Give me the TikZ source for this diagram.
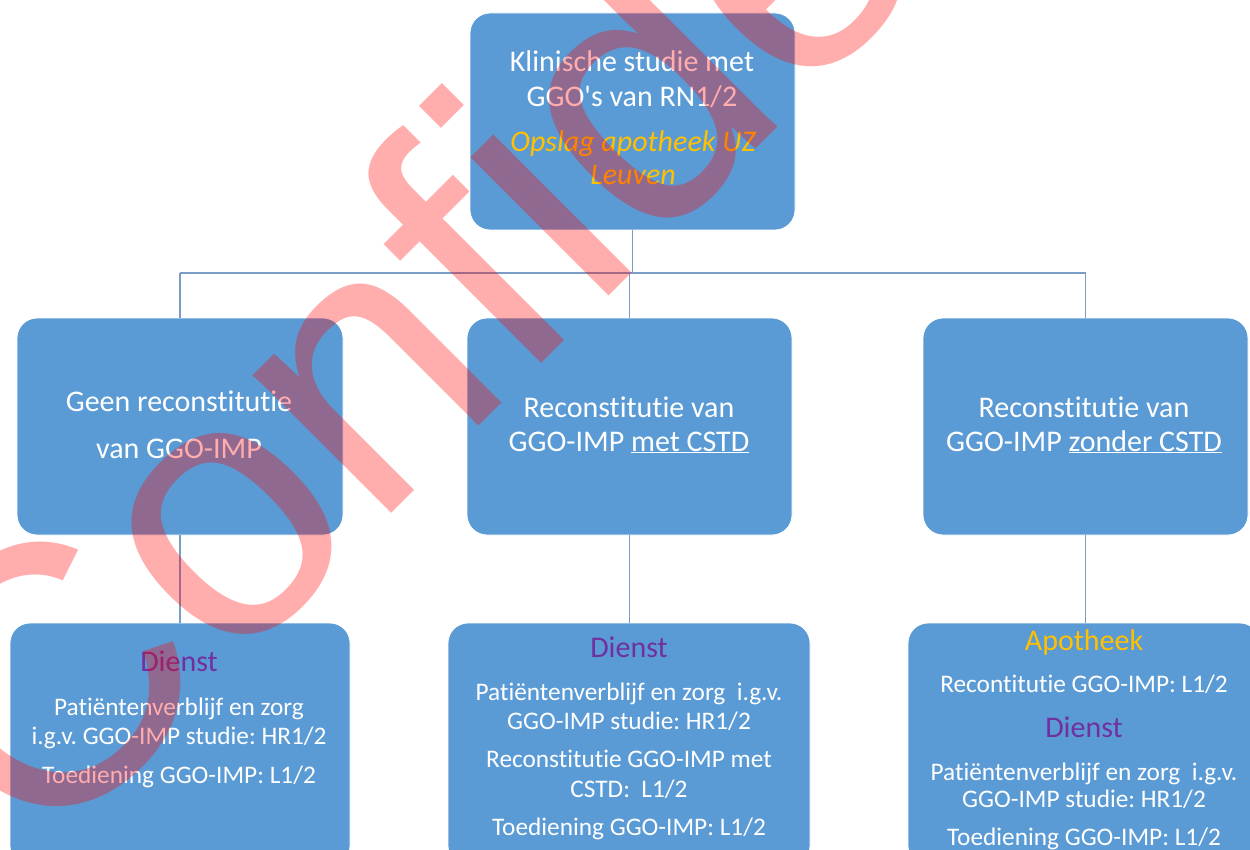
\documentclass[tikz,border=0pt]{standalone}
\usepackage{fontspec}
\defaultfontfeatures{}
\setmainfont{Carlito}[Ligatures=NoCommon]
\newfontfamily\calfont{Carlito}[Ligatures=NoCommon]
\newfontfamily\wmfont{Liberation Sans}
\definecolor{boxblue}{HTML}{5B9BD5}
\definecolor{goldtxt}{HTML}{FFC000}
\definecolor{dpurple}{HTML}{7030A0}
\definecolor{linec}{HTML}{7A9CC6}
\begin{document}
\frenchspacing
\begin{tikzpicture}[x=1pt,y=-1pt,
  box/.style={draw=white, line width=0.8pt, fill=boxblue, rounded corners=20pt, inner sep=0pt},
  conn/.style={draw=linec, line width=1.6pt},
  big/.style={text=white, inner sep=0pt, anchor=base, font=\calfont\fontsize{30}{36}\selectfont},
  bigital/.style={text=goldtxt, inner sep=0pt, anchor=base, font=\calfont\fontsize{30}{36}\selectfont\itshape},
  small/.style={text=white, inner sep=0pt, anchor=base, font=\calfont\fontsize{25.3}{30}\selectfont},
  head/.style={inner sep=0pt, anchor=base, font=\calfont\fontsize{30}{36}\selectfont},
  wm/.style={text=red, text opacity=0.32, inner sep=0pt, anchor=base west, rotate=45, font=\wmfont\fontsize{370}{370}\selectfont}
  ]
\useasboundingbox (0,0) rectangle (1250,850);
\clip (0,0) rectangle (1250,850);

% boxes
\node[box, minimum width=325pt, minimum height=217pt] (top) at (632.5,121.5) {};
\node[box, minimum width=326pt, minimum height=217pt] (ml) at (180,426.5) {};
\node[box, minimum width=325pt, minimum height=217pt] (mm) at (629.5,426.5) {};
\node[box, minimum width=325pt, minimum height=217pt] (mr) at (1085.5,426.5) {};
\node[box, minimum width=340pt, minimum height=243pt] (bl) at (180,744.5) {};
\node[box, minimum width=362pt, minimum height=243pt] (bm) at (629,744.5) {};
\node[box, minimum width=352pt, minimum height=243pt] (br) at (1084,744.5) {};

% connectors
\coordinate (bus) at (0,273);
\draw[conn] (top.south) -- (top.south |- bus);
\draw[conn] (ml.north |- bus) -- (mr.north |- bus);
\draw[conn] (ml.north |- bus) -- (ml.north);
\draw[conn] (mm.north |- bus) -- (mm.north);
\draw[conn] (mr.north |- bus) -- (mr.north);
\draw[conn] (ml.south) -- (bl.north);
\draw[conn] (mm.south) -- (mm.south |- bm.north);
\draw[conn] (mr.south) -- (mr.south |- br.north);

% top box text
\node[big] (t1) at (632,72) {Klinische studie met};
\node[big] (t2) at (632,107) {GGO's van RN1/2};
\node[bigital] (t3) at (633,152) {Opslag apotheek UZ};
\node[bigital] (t4) at (633,185) {Leuven};

% middle row text
\node[big] (l1) at (179,411) {Geen reconstitutie};
\node[big] (l2) at (179,458) {van GGO-IMP};
\node[big] (m1) at (629,417) {Reconstitutie van};
\node[big] (m2) at (629,451) {GGO-IMP \underline{met CSTD}};
\node[big] (r1) at (1084,417) {Reconstitutie van};
\node[big] (r2) at (1084,451) {GGO-IMP \underline{zonder CSTD}};

% bottom left
\node[head, text=dpurple] (bl1) at (179,671) {Dienst};
\node[small] (bl2) at (179,715) {Patiëntenverblijf en zorg};
\node[small] (bl3) at (179,744) {i.g.v. GGO-IMP studie: HR1/2};
\node[small] (bl4) at (179,783) {Toediening GGO-IMP: L1/2};

% bottom middle
\node[head, text=dpurple] (bm1) at (629,657) {Dienst};
\node[small] (bm2) at (629,700) {Patiëntenverblijf en zorg\ \ i.g.v.};
\node[small] (bm3) at (629,729) {GGO-IMP studie: HR1/2};
\node[small] (bm4) at (629,767) {Reconstitutie GGO-IMP met};
\node[small] (bm5) at (629,797) {CSTD:\ \ L1/2};
\node[small] (bm6) at (629,835) {Toediening GGO-IMP: L1/2};

% bottom right
\node[head, text=goldtxt] (br1) at (1084,650) {Apotheek};
\node[small] (br2) at (1084,692) {Recontitutie GGO-IMP: L1/2};
\node[head, text=dpurple] (br3) at (1084,737) {Dienst};
\node[small] (br4) at (1084,780) {Patiëntenverblijf en zorg\ \ i.g.v.};
\node[small] (br5) at (1084,807) {GGO-IMP studie: HR1/2};
\node[small] (br6) at (1084,845) {Toediening GGO-IMP: L1/2};

% watermark
\node[wm] (wmark) at (39,866) {Confidential};
\end{tikzpicture}
\end{document}
